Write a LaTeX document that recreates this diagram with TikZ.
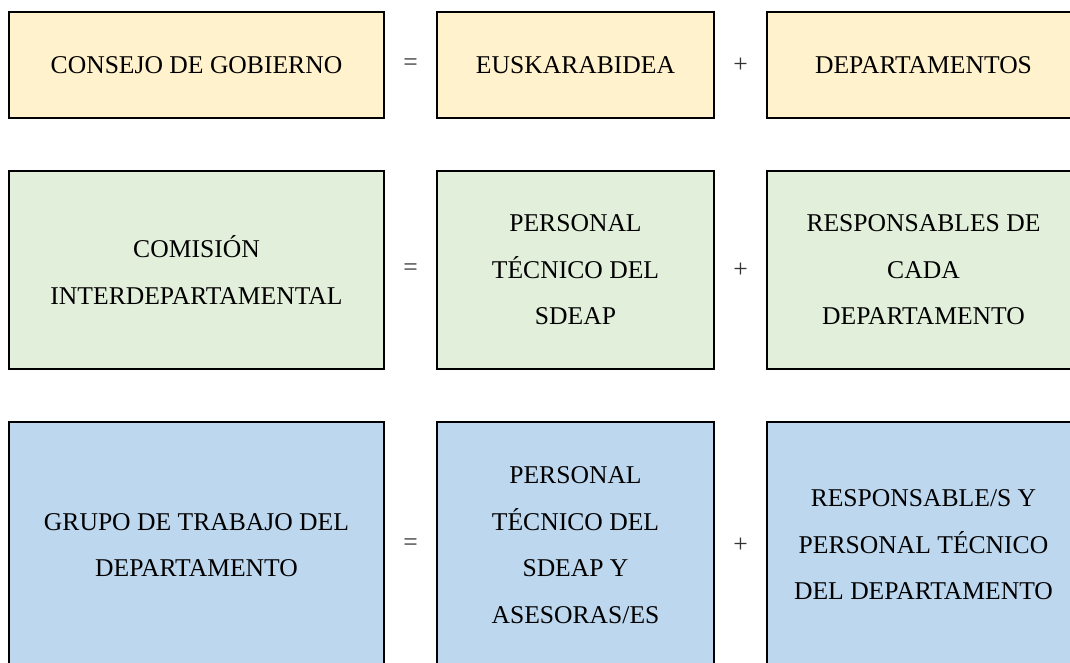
\documentclass[tikz,border=0pt]{standalone}
\usepackage{fontspec}
\setmainfont{Liberation Serif}
\usetikzlibrary{positioning}
\definecolor{amarillo}{HTML}{FFF2CC}
\definecolor{verde}{HTML}{E2EFDA}
\definecolor{azul}{HTML}{BDD7EE}

\begin{document}
\begin{tikzpicture}[x=1pt, y=-1pt, on grid,
    caja/.style={draw, line width=1.3pt, align=center, inner sep=0pt,
      font=\fontsize{25.6pt}{46.5pt}\selectfont},
    fila1/.style={caja, fill=amarillo, minimum height=106pt},
    fila2/.style={caja, fill=verde, minimum height=198pt},
    fila3/.style={caja, fill=azul, minimum height=246pt},
    col1/.style={minimum width=375pt},
    col2/.style={minimum width=277pt},
    col3/.style={minimum width=313pt},
    signo/.style={font=\fontsize{25.6pt}{30pt}\selectfont, text=black!80}]
    \useasboundingbox (0,0) rectangle (1070,662);

    % primera fila
    \node[fila1, col1] (consejo) at (196.5,65) {CONSEJO DE GOBIERNO};
    \node[fila1, col2] (euska) [right=379pt of consejo] {EUSKARABIDEA};
    \node[fila1, col3] (deptos) [right=348pt of euska] {DEPARTAMENTOS};

    % segunda fila
    \node[fila2, col1] (comision) [below=205pt of consejo] {COMISIÓN\\INTERDEPARTAMENTAL};
    \node[fila2, col2] (tecnico) [right=379pt of comision] {PERSONAL\\TÉCNICO DEL\\SDEAP};
    \node[fila2, col3] (respcada) [right=348pt of tecnico] {RESPONSABLES DE\\CADA\\DEPARTAMENTO};

    % tercera fila
    \node[fila3, col1] (grupo) [below=275pt of comision] {GRUPO DE TRABAJO DEL\\DEPARTAMENTO};
    \node[fila3, col2] (asesoras) [right=379pt of grupo] {PERSONAL\\TÉCNICO DEL\\SDEAP Y\\ASESORAS/ES};
    \node[fila3, col3] (respdep) [right=348pt of asesoras] {RESPONSABLE/S Y\\PERSONAL TÉCNICO\\DEL DEPARTAMENTO};

    \path
    (consejo.east) -- node[signo] (igualA) {=} (euska.west)
    (euska.east) -- node[signo] (masA) {+} (deptos.west)
    (comision.east) -- node[signo] (igualB) {=} (tecnico.west)
    (tecnico.east) -- node[signo] (masB) {+} (respcada.west)
    (grupo.east) -- node[signo] (igualC) {=} (asesoras.west)
    (asesoras.east) -- node[signo] (masC) {+} (respdep.west);
\end{tikzpicture}
\end{document}
